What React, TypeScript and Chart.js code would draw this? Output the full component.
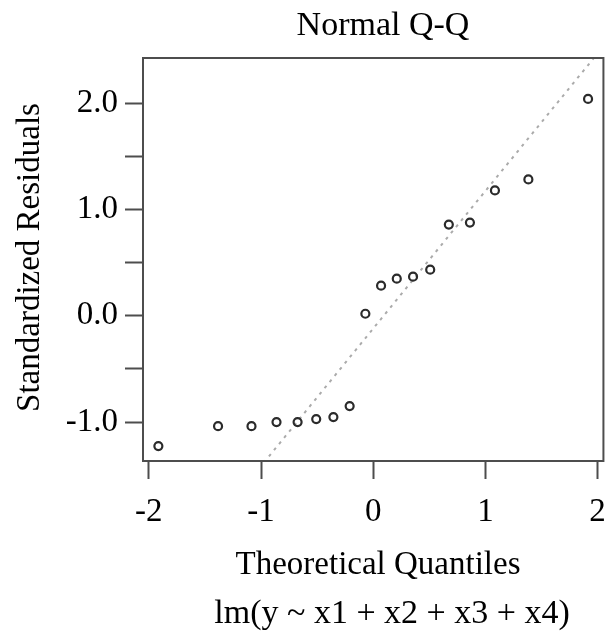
import React, { useEffect, useRef } from 'react';
import { Chart, registerables } from 'chart.js';

Chart.register(...registerables);

// ---- data ----
const theoreticalQuantiles = [
  -1.915, -1.383, -1.085, -0.862, -0.674, -0.508, -0.355, -0.21, -0.07,
  0.07, 0.21, 0.355, 0.508, 0.674, 0.862, 1.085, 1.383, 1.915,
];
const standardizedResiduals = [
  -1.226, -1.038, -1.038, -1.0, -1.0, -0.972, -0.953, -0.849, 0.019,
  0.283, 0.349, 0.368, 0.434, 0.858, 0.877, 1.179, 1.283, 2.04,
];
const xTicks = [-2, -1, 0, 1, 2];
const yTicks = [-1, -0.5, 0, 0.5, 1, 1.5, 2];
const yLabeledTicks = [-1, 0, 1, 2];
const xLimits = [-2.052, 2.052];
const yLimits = [-1.366, 2.425];
// reference line (qqline)
const qqIntercept = -0.12;
const qqSlope = 1.294;

const titleText = 'Normal Q-Q';
const xTitleText = 'Theoretical Quantiles';
const yTitleText = 'Standardized Residuals';
const subTitleText = 'lm(y ~ x1 + x2 + x3 + x4)';

const FONT_FAMILY = "'Liberation Serif', 'Times New Roman', serif";
const FONT_SIZE = 33;
const AXIS_COLOR = '#4d4d4d';

const decorPlugin = {
  id: 'rDecor',
  afterDraw(chart: any) {
    const { ctx, chartArea: a } = chart;
    ctx.save();
    ctx.strokeStyle = AXIS_COLOR;
    ctx.lineWidth = 2;
    ctx.strokeRect(a.left, a.top, a.right - a.left, a.bottom - a.top);

    ctx.fillStyle = '#000';
    ctx.textAlign = 'center';
    ctx.textBaseline = 'alphabetic';
    ctx.font = `34px ${FONT_FAMILY}`;
    ctx.fillText(titleText, a.left + 240, a.top - 23);
    ctx.font = `${FONT_SIZE}px ${FONT_FAMILY}`;
    ctx.fillText(xTitleText, a.left + 235, a.bottom + 113);
    ctx.font = `34px ${FONT_FAMILY}`;
    ctx.fillText(subTitleText, a.left + 249, a.bottom + 162);

    ctx.font = `${FONT_SIZE}px ${FONT_FAMILY}`;
    ctx.translate(a.left - 104.5, a.top + 199.5);
    ctx.rotate(-Math.PI / 2);
    ctx.fillText(yTitleText, 0, 0);
    ctx.restore();
  },
};

export default function App() {
  const canvasRef = useRef<HTMLCanvasElement | null>(null);

  useEffect(() => {
    const canvas = canvasRef.current;
    if (!canvas) return;

    const points = theoreticalQuantiles.map((x, i) => ({ x, y: standardizedResiduals[i] }));
    const lineX = [xLimits[0] - 0.5, xLimits[1] + 0.5];
    const linePts = lineX.map((x) => ({ x, y: qqIntercept + qqSlope * x }));

    const tickFont = { family: FONT_FAMILY, size: FONT_SIZE };

    const chart = new Chart(canvas, {
      type: 'scatter',
      data: {
        datasets: [
          {
            data: points,
            showLine: false,
            pointStyle: 'circle',
            pointRadius: 4,
            pointBorderWidth: 2.2,
            pointBorderColor: '#2b2b2b',
            pointBackgroundColor: 'rgba(0,0,0,0)',
            pointHoverRadius: 4,
          },
          {
            type: 'line',
            data: linePts,
            showLine: true,
            borderColor: '#ababab',
            borderWidth: 2,
            borderDash: [3, 5],
            pointRadius: 0,
            pointHoverRadius: 0,
            fill: false,
          },
        ],
      } as any,
      plugins: [decorPlugin],
      options: {
        animation: false,
        responsive: false,
        devicePixelRatio: 1,
        events: [],
        layout: { padding: { top: 58, right: 12.4, left: 0, bottom: 0 } },
        plugins: {
          legend: { display: false },
          tooltip: { enabled: false },
          title: { display: false },
        },
        scales: {
          x: {
            type: 'linear',
            position: 'bottom',
            min: xLimits[0],
            max: xLimits[1],
            afterBuildTicks: (scale: any) => {
              scale.ticks = xTicks.map((v) => ({ value: v }));
            },
            afterFit: (scale: any) => {
              scale.height = 171;
            },
            grid: {
              drawOnChartArea: false,
              drawTicks: true,
              tickLength: 18,
              tickWidth: 2,
              tickColor: AXIS_COLOR,
            },
            border: { display: true, color: AXIS_COLOR, width: 2 },
            ticks: {
              font: tickFont,
              color: '#000',
              padding: 14,
              autoSkip: false,
              maxRotation: 0,
              minRotation: 0,
              callback: (v: any) => String(v),
            },
          },
          y: {
            type: 'linear',
            position: 'left',
            min: yLimits[0],
            max: yLimits[1],
            afterBuildTicks: (scale: any) => {
              scale.ticks = yTicks.map((v) => ({ value: v }));
            },
            afterFit: (scale: any) => {
              scale.width = 143;
            },
            grid: {
              drawOnChartArea: false,
              drawTicks: true,
              tickLength: 18,
              tickWidth: 2,
              tickColor: AXIS_COLOR,
            },
            border: { display: true, color: AXIS_COLOR, width: 2 },
            ticks: {
              font: tickFont,
              color: '#000',
              padding: 7,
              autoSkip: false,
              callback: (v: any) =>
                yLabeledTicks.includes(Number(v)) ? Number(v).toFixed(1) : '',
            },
          },
        },
      } as any,
    });

    return () => chart.destroy();
  }, []);

  return (
    <div
      style={{
        position: 'absolute',
        left: 0,
        top: 0,
        width: 607,
        height: 632,
        overflow: 'hidden',
        background: '#fff',
      }}
    >
      <canvas ref={canvasRef} width={620} height={632} style={{ width: 620, height: 632, display: 'block' }} />
    </div>
  );
}
